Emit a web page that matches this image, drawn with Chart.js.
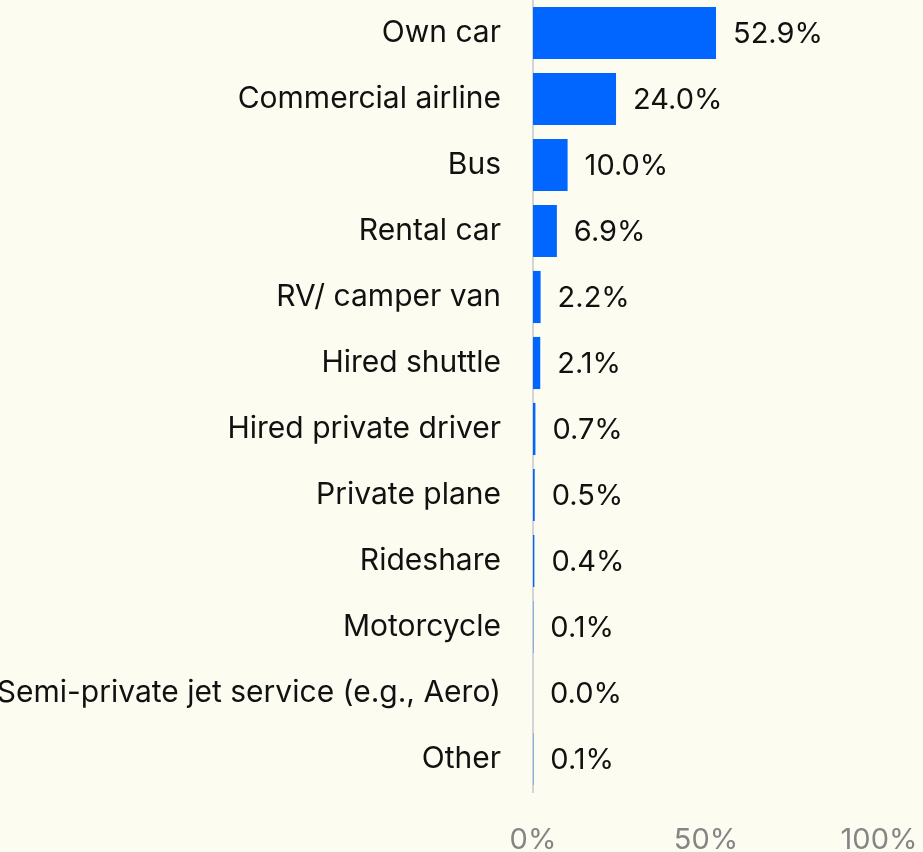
<!DOCTYPE html>
<html>
<head>
<meta charset="utf-8">
<script src="https://cdn.jsdelivr.net/npm/chart.js@4.4.0/dist/chart.umd.min.js"></script>
<style>
  html, body { margin: 0; padding: 0; background: #fcfdf0; }
  #wrap { width: 923px; height: 852px; }
</style>
</head>
<body>
<div id="wrap"><canvas id="bar-chart"></canvas></div>
<script>
const CATEGORIES = [
  'Own car', 'Commercial airline', 'Bus', 'Rental car', 'RV/ camper van',
  'Hired shuttle', 'Hired private driver', 'Private plane', 'Rideshare',
  'Motorcycle', 'Semi-private jet service (e.g., Aero)', 'Other'
];
const SHARES = [52.9, 24.0, 10.0, 6.9, 2.2, 2.1, 0.7, 0.5, 0.4, 0.1, 0.0, 0.1];
const X_TICKS = [0, 50, 100];

const FONT = 'Inter, "Noto Sans", sans-serif';

// draws "52.9%" etc just past the end of each bar
const valueLabels = {
  id: 'valueLabels',
  afterDatasetsDraw(chart) {
    const ctx = chart.ctx;
    const meta = chart.getDatasetMeta(0);
    ctx.save();
    ctx.font = '29px ' + FONT;
    ctx.fillStyle = '#111';
    ctx.textAlign = 'left';
    ctx.textBaseline = 'middle';
    meta.data.forEach((bar, i) => {
      ctx.fillText(SHARES[i].toFixed(1) + '%', bar.x + 17, bar.y + 1);
    });
    ctx.restore();
  }
};

new Chart(document.getElementById('bar-chart'), {
  type: 'bar',
  data: {
    labels: CATEGORIES,
    datasets: [{
      data: SHARES,
      backgroundColor: '#0066ff',
      borderWidth: 0,
      barPercentage: 0.79,
      categoryPercentage: 1
    }]
  },
  options: {
    indexAxis: 'y',
    responsive: true,
    maintainAspectRatio: false,
    animation: false,
    layout: { padding: { top: 0, right: 44, bottom: 0, left: 0 } },
    plugins: { legend: { display: false }, tooltip: { enabled: false } },
    scales: {
      x: {
        min: 0,
        max: 100,
        afterBuildTicks(axis) { axis.ticks = X_TICKS.map(v => ({ value: v })); },
        afterFit(axis) {
          axis.height = 60;
          axis.paddingLeft = 0;
          axis.paddingRight = 0;
        },
        grid: { display: false, drawTicks: false },
        border: { display: false },
        ticks: {
          color: '#858585',
          font: { family: FONT, size: 29 },
          padding: 31,
          maxRotation: 0,
          callback: v => v + '%'
        }
      },
      y: {
        afterFit(axis) {
          axis.width = 533;
          axis.paddingTop = 0;
          axis.paddingBottom = 0;
        },
        grid: { display: false, drawTicks: false },
        border: { display: true, color: '#d4d4d4', width: 2 },
        ticks: {
          color: '#111',
          font: { family: FONT, size: 30 },
          padding: 32
        }
      }
    }
  },
  plugins: [valueLabels]
});
</script>
</body>
</html>
